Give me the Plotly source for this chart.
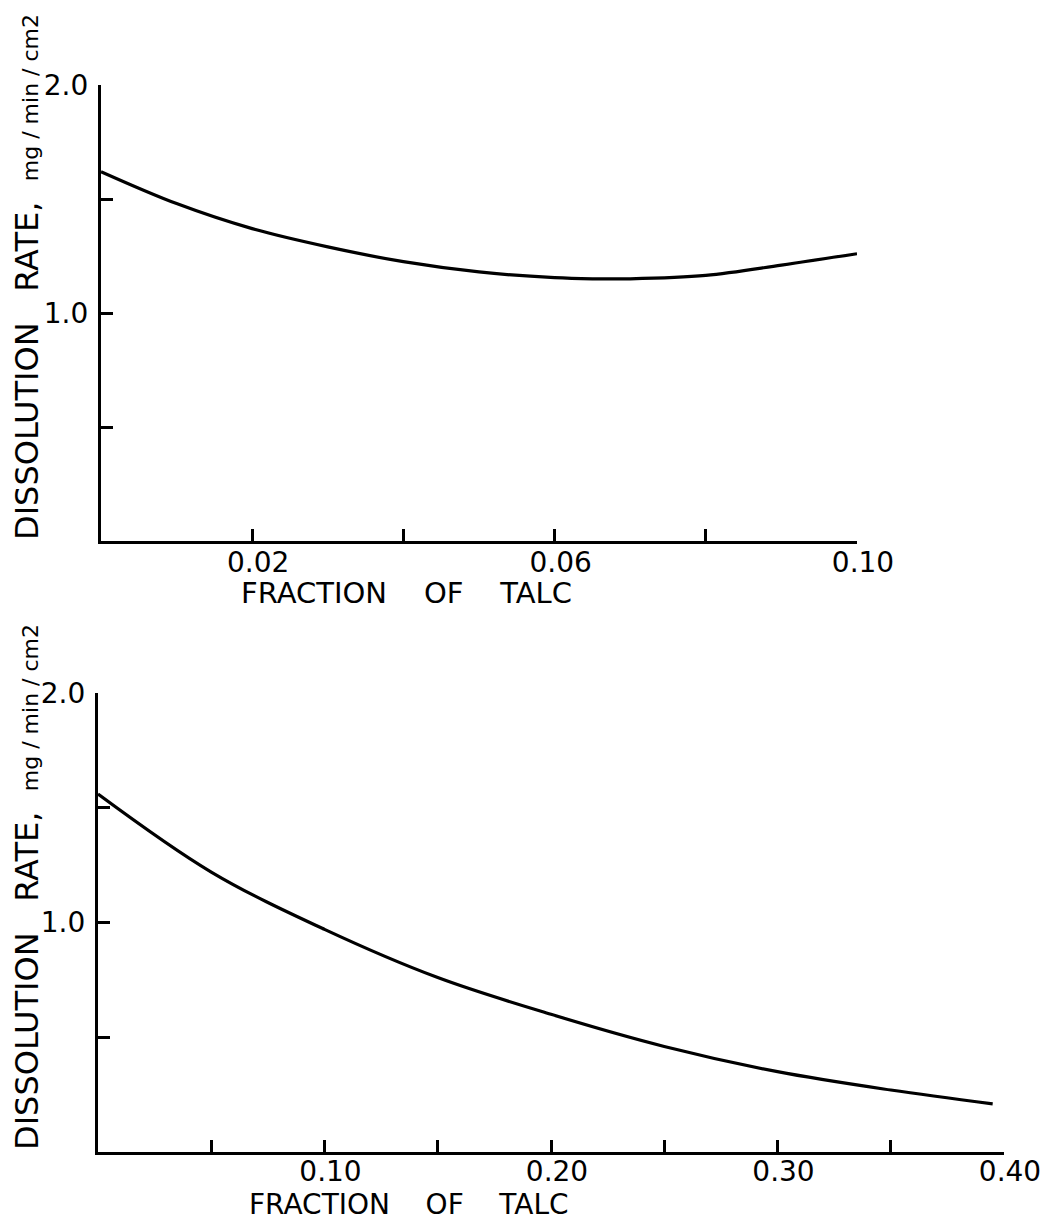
import plotly.graph_objects as go

# ---- data ----
top_x = [0.0, 0.01, 0.02, 0.03, 0.04, 0.05, 0.06, 0.065, 0.07, 0.08, 0.09, 0.10]
top_y = [1.62, 1.48, 1.37, 1.29, 1.225, 1.18, 1.155, 1.15, 1.15, 1.165, 1.21, 1.26]

bot_x = [0.0, 0.05, 0.10, 0.15, 0.20, 0.25, 0.30, 0.35, 0.395]
bot_y = [1.56, 1.22, 0.97, 0.76, 0.60, 0.46, 0.35, 0.27, 0.21]

top_xticks = [0.02, 0.04, 0.06, 0.08, 0.10]
top_xtext = ["0.02", "", "0.06", "", "0.10"]
bot_xticks = [0.05, 0.10, 0.15, 0.20, 0.25, 0.30, 0.35, 0.40]
bot_xtext = ["", "0.10", "", "0.20", "", "0.30", "", "0.40"]
yticks = [0.5, 1.0, 1.5, 2.0]
ytext = ["", "1.0", "", "2.0"]

NB = "\u00a0"
x_title = "FRACTION" + NB * 4 + "OF" + NB * 4 + "TALC"
y_title = ("DISSOLUTION" + NB * 3 + "RATE," + NB * 2 +
           "<span style='font-size:22px'>mg / min / cm2</span>")

W, H = 1057, 1220
FONT = "DejaVu Sans"

fig = go.Figure()
fig.add_trace(go.Scatter(x=top_x, y=top_y, mode="lines", line=dict(color="black", width=3.2, shape="spline"),
                         xaxis="x", yaxis="y", showlegend=False, hoverinfo="skip"))
fig.add_trace(go.Scatter(x=bot_x, y=bot_y, mode="lines", line=dict(color="black", width=3.2, shape="spline"),
                         xaxis="x2", yaxis="y2", showlegend=False, hoverinfo="skip"))

def px_x(p):
    return p / W

def px_y(p):
    return 1 - p / H

axis_common = dict(showline=True, linecolor="black", linewidth=3.2, ticks="inside", ticklen=12,
                   tickwidth=2.5, tickcolor="black", showgrid=False, zeroline=False,
                   automargin=False,
                   tickfont=dict(family=FONT, size=28, color="black"), mirror=False)

fig.update_layout(
    width=W, height=H, autosize=False,
    margin=dict(l=0, r=0, t=0, b=0, autoexpand=False),
    paper_bgcolor="white", plot_bgcolor="white",
    xaxis=dict(domain=[px_x(101), px_x(857)], range=[0, 0.10], tickmode="array",
               tickvals=top_xticks, ticktext=top_xtext, anchor="y", ticklabelstandoff=-6,
               ticklabelshift=6, **axis_common),
    yaxis=dict(domain=[px_y(541), px_y(85)], range=[0, 2.0], tickmode="array",
               tickvals=yticks, ticktext=ytext, anchor="x", ticklabelstandoff=4, **axis_common),
    xaxis2=dict(domain=[px_x(98), px_x(1004)], range=[0, 0.40], tickmode="array",
                tickvals=bot_xticks, ticktext=bot_xtext, anchor="y2", ticklabelstandoff=-8,
                ticklabelshift=6, **axis_common),
    yaxis2=dict(domain=[px_y(1152), px_y(693)], range=[0, 2.0], tickmode="array",
                tickvals=yticks, ticktext=ytext, anchor="x2", ticklabelstandoff=4, **axis_common),
)

annots = [
    dict(text=x_title, x=px_x(406), y=px_y(593), xanchor="center", yanchor="middle", size=29),
    dict(text=x_title, x=px_x(409), y=px_y(1204), xanchor="center", yanchor="middle", size=28),
    dict(text=y_title, x=px_x(27), y=px_y(542), xanchor="center", yanchor="bottom", textangle=-90, size=32),
    dict(text=y_title, x=px_x(27), y=px_y(1152), xanchor="center", yanchor="bottom", textangle=-90, size=32),
]
for a in annots:
    size = a.pop("size")
    fig.add_annotation(xref="paper", yref="paper", showarrow=False,
                       font=dict(family=FONT, size=size, color="black"), **a)

fig.write_html("out.html", config={"displayModeBar": False},
               post_script="document.body.style.margin='0';document.body.style.overflow='hidden';")
